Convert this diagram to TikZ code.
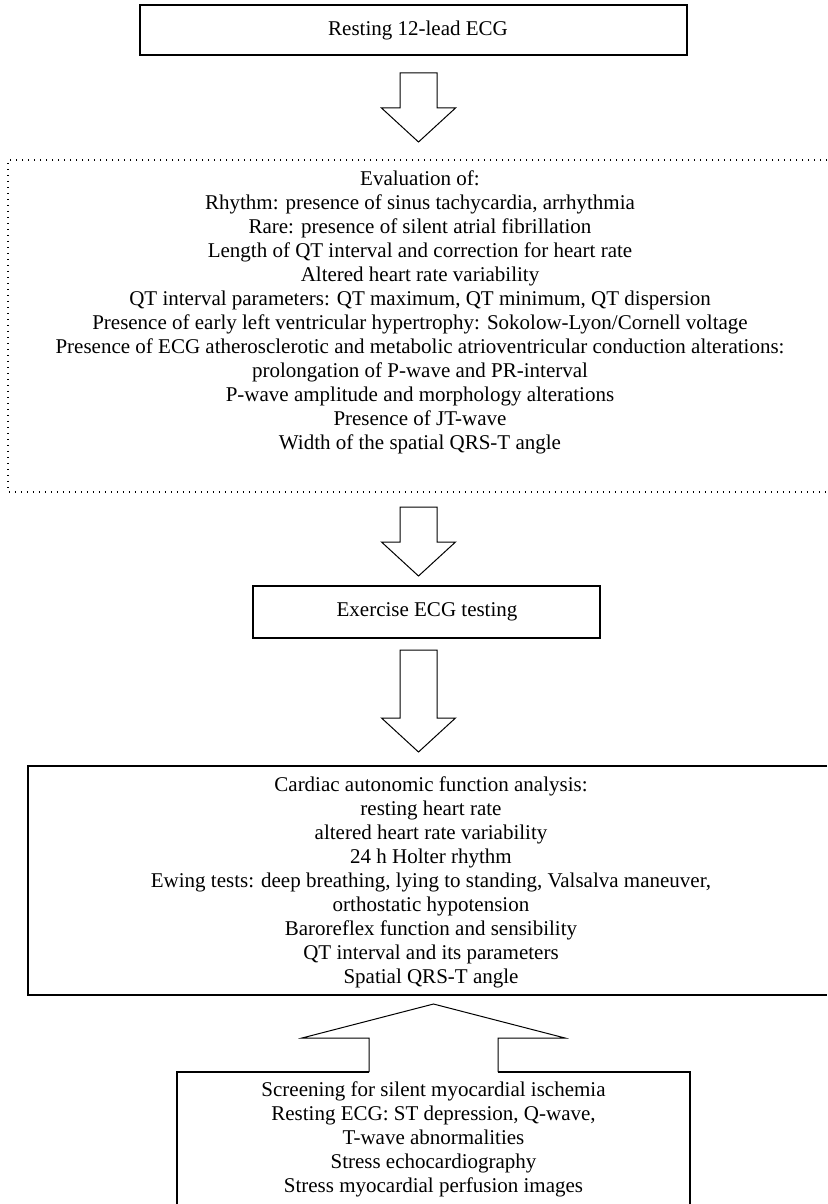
\documentclass[tikz,border=0pt]{standalone}
\usepackage{fontspec}
\setmainfont{Liberation Serif}
\newcommand\downblock[2]{\path[blockarrow] (#1) ++(-18.5,0) -- ++(0,#2) -- ++(-18.5,0) -- ++(37,34) -- ++(37,-34) -- ++(-18.5,0) -- ++(0,-#2) -- cycle;}
\begin{document}
\begin{tikzpicture}[x=0.5pt,y=-0.5pt,
    boxline/.style={draw,line width=0.75pt},
    dotline/.style={draw,line width=0.6pt,dash pattern=on 0.6pt off 2.4pt},
    blockarrow/.style={draw,line width=0.5pt,line join=miter},
    txt/.style={align=center,inner sep=0pt,font=\fontsize{10.5}{12}\selectfont}]

    \useasboundingbox (0,0) rectangle (827,1204);

    \path[boxline] (140,5) rectangle (687,55);
    \node[txt] (resting) at (418,30) {Resting 12-lead ECG};

    \coordinate (arrA) at (418.5,73);
    \downblock{arrA}{35}

    \path[dotline] (827,160) -- (8,160) -- (8,492) -- (827,492);
    \node[txt] (evaluation) at (420,312) {Evaluation of:\\
        Rhythm: presence of sinus tachycardia, arrhythmia\\
        Rare: presence of silent atrial fibrillation\\
        Length of QT interval and correction for heart rate\\
        Altered heart rate variability\\
        QT interval parameters: QT maximum, QT minimum, QT dispersion\\
        Presence of early left ventricular hypertrophy: Sokolow-Lyon/Cornell voltage\\
        Presence of ECG atherosclerotic and metabolic atrioventricular conduction alterations:\\
        prolongation of P-wave and PR-interval\\
        P-wave amplitude and morphology alterations\\
        Presence of JT-wave\\
        Width of the spatial QRS-T angle};

    \coordinate (arrB) at (418.5,507);
    \downblock{arrB}{35}

    \path[boxline] (253,586) rectangle (600,638);
    \node[txt] (exercise) at (427,612) {Exercise ECG testing};

    \coordinate (arrC) at (418.5,650);
    \downblock{arrC}{68}

    \path[boxline] (827,766) -- (28,766) -- (28,995) -- (827,995);
    \node[txt] (autonomic) at (431,882) {Cardiac autonomic function analysis:\\
        resting heart rate\\
        altered heart rate variability\\
        24 h Holter rhythm\\
        Ewing tests: deep breathing, lying to standing, Valsalva maneuver,\\
        orthostatic hypotension\\
        Baroreflex function and sensibility\\
        QT interval and its parameters\\
        Spatial QRS-T angle};

    \coordinate (arrD) at (433.5,1072);
    \path[blockarrow] (arrD) ++(-64.5,0) -- ++(0,-34) -- ++(-67,0) -- ++(131.5,-34) -- ++(131.5,34) -- ++(-67,0) -- ++(0,34);

    \path[boxline] (177,1204) -- (177,1072) -- (369,1072);
    \path[boxline] (498,1072) -- (690,1072) -- (690,1204);
    \node[txt] (ischemia) at (433.5,1139) {Screening for silent myocardial ischemia\\
        Resting ECG: ST depression, Q-wave,\\
        T-wave abnormalities\\
        Stress echocardiography\\
        Stress myocardial perfusion images};

\end{tikzpicture}
\end{document}
